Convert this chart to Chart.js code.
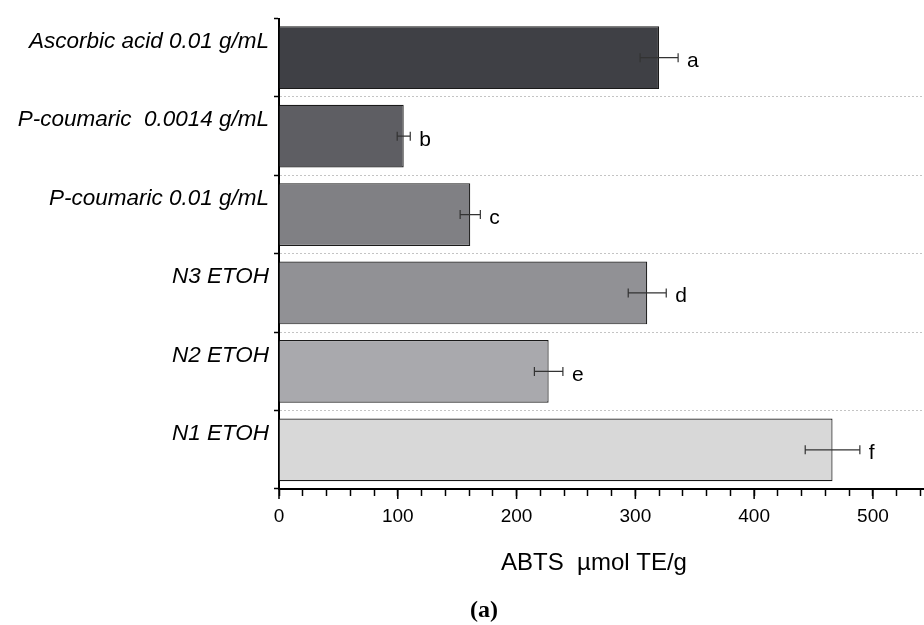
<!DOCTYPE html>
<html>
<head>
<meta charset="utf-8">
<style>
  html, body { margin: 0; padding: 0; background: #fff; }
  #wrap { width: 924px; height: 625px; position: relative; }
</style>
<script src="https://cdn.jsdelivr.net/npm/chart.js@4/dist/chart.umd.min.js"></script>
</head>
<body>
<div id="wrap"><canvas id="abts" width="924" height="625"></canvas></div>
<script>
'use strict';

// Data (top to bottom)
const samples = ['Ascorbic acid 0.01 g/mL', 'P-coumaric  0.0014 g/mL', 'P-coumaric 0.01 g/mL', 'N3 ETOH', 'N2 ETOH', 'N1 ETOH'];
const abtsValues = [320, 105, 161, 310, 227, 466];
const abtsErrors = [16, 5.5, 8.5, 16, 12, 23];
const groupLetters = ['a', 'b', 'c', 'd', 'e', 'f'];
const barColors = ['#3f4045', '#5e5e63', '#808084', '#919195', '#a9a9ad', '#d8d8d8'];
const xTitle = 'ABTS  µmol TE/g';
const panelLabel = '(a)';

const FONT = "'Liberation Sans', Arial, sans-serif";

// Error bars + significance letters, placed with the chart's own scales
const errorBarPlugin = {
  id: 'errorBars',
  afterDatasetsDraw(chart) {
    const { ctx } = chart;
    const xs = chart.scales.x;
    const meta = chart.getDatasetMeta(0);
    ctx.save();
    meta.data.forEach((bar, i) => {
      const y = bar.y;
      const lo = xs.getPixelForValue(abtsValues[i] - abtsErrors[i]);
      const hi = xs.getPixelForValue(abtsValues[i] + abtsErrors[i]);
      ctx.strokeStyle = '#333';
      ctx.lineWidth = 1.2;
      ctx.beginPath();
      ctx.moveTo(lo, y); ctx.lineTo(hi, y);
      ctx.moveTo(lo, y - 4.5); ctx.lineTo(lo, y + 4.5);
      ctx.moveTo(hi, y - 4.5); ctx.lineTo(hi, y + 4.5);
      ctx.stroke();

      ctx.fillStyle = '#000';
      ctx.font = `21px ${FONT}`;
      ctx.textAlign = 'left';
      ctx.textBaseline = 'alphabetic';
      ctx.fillText(groupLetters[i], hi + 9, y + 9.5);
    });
    ctx.restore();
  }
};

// Longer marks on the labelled (x100) ticks
const majorTickPlugin = {
  id: 'majorTicks',
  afterDraw(chart) {
    const { ctx } = chart;
    const xs = chart.scales.x;
    ctx.save();
    ctx.strokeStyle = '#000';
    ctx.lineWidth = 1.5;
    ctx.beginPath();
    xs.ticks.forEach(t => {
      if (t.value % 100 !== 0) return;
      const px = xs.getPixelForValue(t.value);
      ctx.moveTo(px, xs.top);
      ctx.lineTo(px, xs.top + 10);
    });
    ctx.stroke();
    ctx.restore();
  }
};

// Axis title and panel caption (both sit off the plot centre in the figure)
const captionPlugin = {
  id: 'captions',
  afterDraw(chart) {
    const { ctx } = chart;
    ctx.save();
    ctx.fillStyle = '#000';
    ctx.textAlign = 'center';
    ctx.textBaseline = 'middle';
    ctx.font = `24px ${FONT}`;
    ctx.fillText(xTitle, 594, 563);
    ctx.font = "bold 24px 'Liberation Serif', serif";
    ctx.fillText(panelLabel, 484, 611);
    ctx.restore();
  }
};

new Chart(document.getElementById('abts'), {
  type: 'bar',
  data: {
    labels: samples,
    datasets: [{
      data: abtsValues,
      backgroundColor: barColors,
      borderColor: '#1a1a1a',
      borderWidth: 1.2,
      barPercentage: 0.8,
      categoryPercentage: 1
    }]
  },
  options: {
    indexAxis: 'y',
    responsive: false,
    animation: false,
    events: [],
    layout: { padding: { top: 12, right: 0, left: 0, bottom: 29 } },
    plugins: {
      legend: { display: false },
      tooltip: { enabled: false }
    },
    scales: {
      x: {
        min: 0,
        max: 543,
        afterFit: s => { s.height = 107; s.paddingLeft = 0; s.paddingRight = 0; },
        ticks: {
          stepSize: 20,
          includeBounds: false,
          autoSkip: false,
          maxRotation: 0,
          padding: 9,
          color: '#000',
          font: { family: FONT, size: 19 },
          callback: v => (v % 100 === 0 ? v : '')
        },
        grid: { drawOnChartArea: false, tickLength: 7, tickColor: '#000', tickWidth: 1.5 },
        border: { color: '#000', width: 2 }
      },
      y: {
        offset: true,
        afterFit: s => { s.width = 279; },
        ticks: {
          color: '#000',
          padding: 5,
          labelOffset: -16,
          font: { family: FONT, size: 22.5, style: 'italic' }
        },
        grid: {
          offset: true,
          tickLength: 5,
          tickColor: '#000',
          tickWidth: 1.5,
          lineWidth: 1,
          color: c => (c.index === 0 ? 'rgba(0,0,0,0)' : '#c4c4c4')
        },
        border: { color: '#000', width: 2, dash: [2, 2] }
      }
    }
  },
  plugins: [errorBarPlugin, majorTickPlugin, captionPlugin]
});
</script>
</body>
</html>
